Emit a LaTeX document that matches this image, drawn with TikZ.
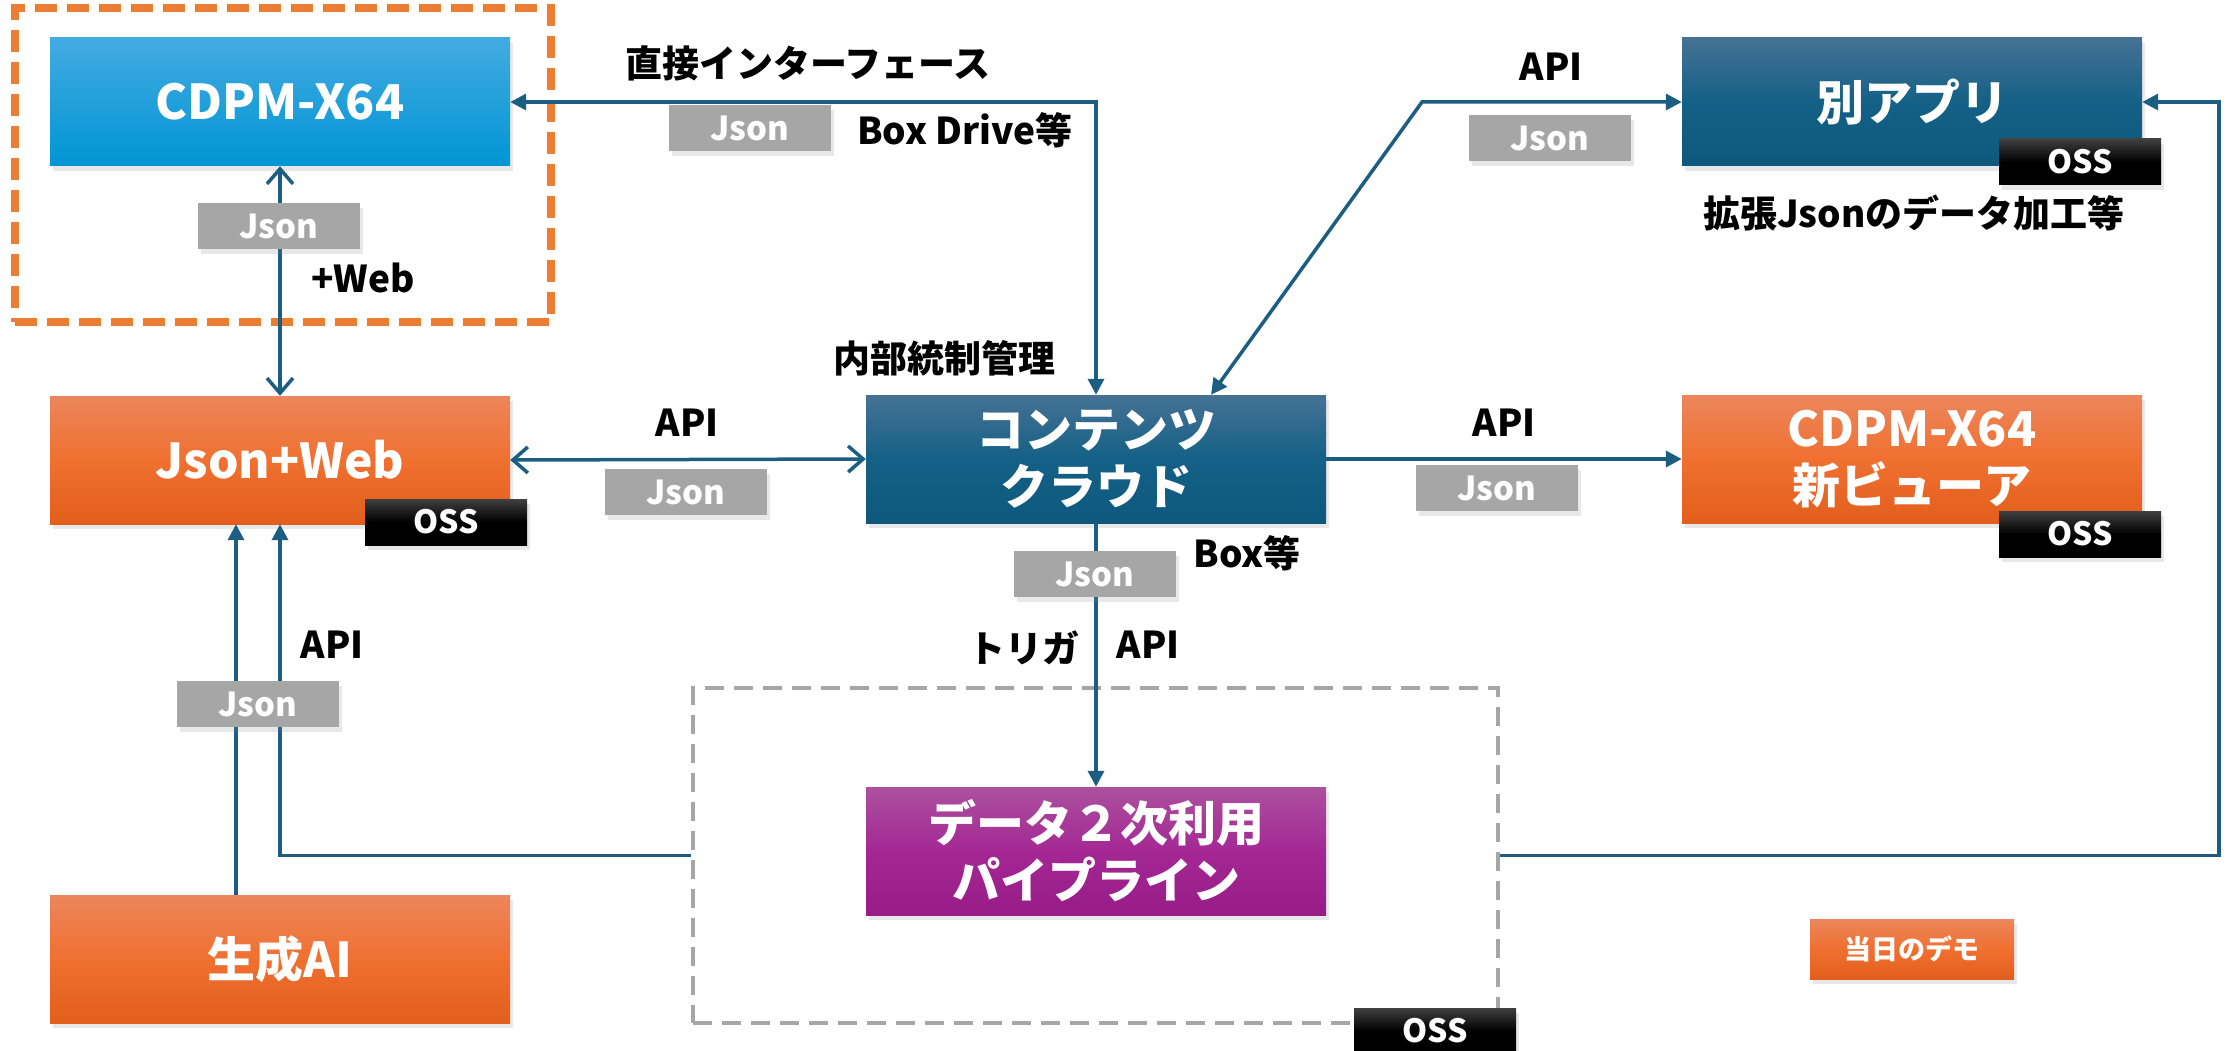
\documentclass[tikz,border=0pt]{standalone}
\usepackage{fontspec}
\setmainfont{Noto Sans CJK JP}
\usetikzlibrary{arrows.meta,shadows,calc}
\definecolor{lineblue}{RGB}{27,94,130}
\definecolor{cdpmTop}{RGB}{68,170,226}
\definecolor{cdpmBot}{RGB}{0,150,212}
\definecolor{orTop}{RGB}{236,134,92}
\definecolor{orMid}{RGB}{240,112,48}
\definecolor{orBot}{RGB}{226,94,28}
\definecolor{dbTop}{RGB}{70,114,148}
\definecolor{dbMid}{RGB}{20,96,134}
\definecolor{dbBot}{RGB}{14,88,124}
\definecolor{puTop}{RGB}{172,80,158}
\definecolor{puMid}{RGB}{164,40,148}
\definecolor{puBot}{RGB}{152,28,136}
\definecolor{tagGrey}{RGB}{166,166,166}
\definecolor{dashOrange}{RGB}{237,125,49}
\definecolor{dashGrey}{RGB}{166,166,166}
\tikzset{
  shad/.style={drop shadow={shadow xshift=3pt,shadow yshift=-5pt,opacity=0.18}},
  box/.style={shad, minimum width=460pt, minimum height=128pt, inner sep=0pt, text=white,
    font=\fontsize{48}{57}\selectfont\bfseries, align=center},
  cdpmbox/.style={box, top color=cdpmTop, bottom color=cdpmBot},
  orbox/.style={box, top color=orTop, bottom color=orBot, middle color=orMid},
  dbbox/.style={box, top color=dbTop, bottom color=dbBot, middle color=dbMid},
  pubox/.style={box, top color=puTop, bottom color=puBot, middle color=puMid},
  jsontag/.style={shad, fill=tagGrey, minimum width=162pt, minimum height=46pt, inner sep=0pt,
    text=white, font=\fontsize{33}{38}\selectfont\bfseries},
  osstag/.style={shad, top color=black!75, bottom color=black, middle color=black,
    minimum width=162pt, minimum height=46pt, inner sep=0pt,
    text=white, font=\fontsize{32}{38}\selectfont\bfseries},
  lbl/.style={inner sep=0pt, text=black, font=\fontsize{37}{44}\selectfont\bfseries},
  conn/.style={draw=lineblue, line width=3.5pt},
  ftip/.tip={Triangle[length=16pt,width=16pt]},
  otip/.tip={Straight Barb[length=15pt,width=26pt,line width=3.5pt]},
  orgroup/.style={draw=dashOrange, line width=7.5pt, dash pattern=on 22pt off 10pt, minimum width=536pt, minimum height=314pt},
  greygroup/.style={draw=dashGrey, line width=3.5pt, dash pattern=on 19pt off 10pt, minimum width=805pt, minimum height=335pt}
}
\begin{document}
\begin{tikzpicture}[x=1pt,y=-1pt]
\useasboundingbox (0,0) rectangle (2228,1051);
% groups
\node[orgroup] (grp) at (283,165) {};
\node[greygroup] (pipebox) at (1095.5,855.5) {};
% main boxes
\node[cdpmbox] (cdpm) at (280,102) {CDPM-X64};
\node[orbox] (jsonweb) at (280,460) {Json+Web};
\node[orbox] (genai) at (280,959) {生成AI};
\node[dbbox] (cloud) at (1096,459) {コンテンツ\\クラウド};
\node[pubox] (pipe) at (1096,851) {データ２次利用\\パイプライン};
\node[dbbox] (betsu) at (1912,102) {別アプリ};
\node[orbox] (viewer) at (1912,459) {CDPM-X64\\新ビューア};
\node[orbox, minimum width=204pt, minimum height=60pt, font=\fontsize{27}{32}\selectfont\bfseries] (demo) at (1912,949) {当日のデモ};
% coordinates
\coordinate (bend1) at (1422,102);
\coordinate (rr) at (2219,0);
% connectors
\draw[conn, arrows={otip-otip}] (cdpm.south) -- (jsonweb.north);
\draw[conn, arrows={ftip-ftip}] (cloud.north) |- (cdpm.east);
\draw[conn, arrows={ftip-ftip}] ([xshift=115pt]cloud.north) -- (bend1) -- (betsu.west);
\draw[conn, arrows={otip-otip}] (jsonweb.east) -- (cloud.west);
\draw[conn, arrows={-ftip}] (cloud.east) -- (viewer.west);
\draw[conn, arrows={-ftip}] (cloud.south) -- (pipe.north);
\draw[conn, arrows={-ftip}] ([xshift=-44pt]genai.north) -- ([xshift=-44pt]jsonweb.south);
\draw[conn, arrows={-ftip}] (pipebox.west) -| (jsonweb.south);
\draw[conn, arrows={-ftip}] (pipebox.east) -- (pipebox.east -| rr) |- (betsu.east);
% tags
\node[jsontag] (j1) at (750,128) {Json};
\node[jsontag] (j2) at (279,226) {Json};
\node[jsontag] (j3) at (686,492) {Json};
\node[jsontag] (j4) at (1550,138) {Json};
\node[jsontag] (j5) at (1497,488) {Json};
\node[jsontag] (j6) at (1095,574) {Json};
\node[jsontag] (j7) at (258,704) {Json};
\node[osstag] (o1) at (446,522) {OSS};
\node[osstag] (o2) at (2080,162) {OSS};
\node[osstag] (o3) at (2080,534) {OSS};
\node[osstag] (o4) at (1435,1031) {OSS};
% labels
\node[lbl] (l1) at (808,63) {直接インターフェース};
\node[lbl] (l2) at (965,130) {Box Drive等};
\node[lbl] (l3) at (1551,67) {API};
\node[lbl] (l4) at (1914,213) {拡張Jsonのデータ加工等};
\node[lbl] (l5) at (363,278) {+Web};
\node[lbl] (l6) at (944,358) {内部統制管理};
\node[lbl] (l7) at (687,423) {API};
\node[lbl] (l8) at (1504,423) {API};
\node[lbl] (l9) at (1247,553) {Box等};
\node[lbl] (l10) at (1024,648) {トリガ};
\node[lbl] (l11) at (1148,645) {API};
\node[lbl] (l12) at (332,645) {API};
\end{tikzpicture}
\end{document}
